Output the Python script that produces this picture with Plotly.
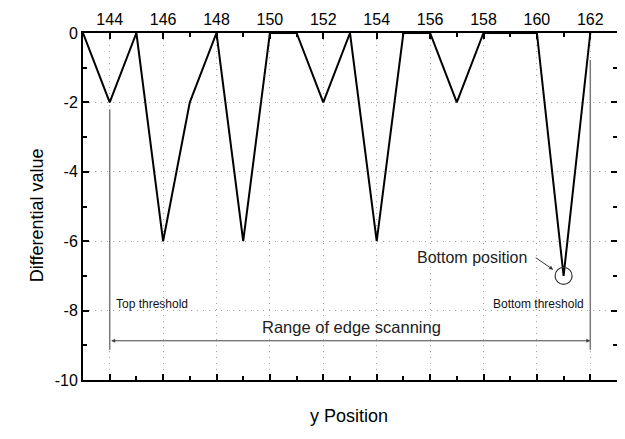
import plotly.graph_objects as go

y_position = list(range(143, 163))
diff_value = [0, -2, 0, -6, -2, 0, -6, 0, 0, -2, 0, -6, 0, 0, -2, 0, 0, 0, -7, 0]

x_ticks = [144, 146, 148, 150, 152, 154, 156, 158, 160, 162]
y_ticks = [0, -2, -4, -6, -8, -10]
y_tick_text = ["0", "-2", "-4", "-6", "-8", "-10"]

top_threshold_x = 144
bottom_threshold_x = 162
bottom_x, bottom_y = 161, -7
range_y = -8.87

FONT = "Liberation Sans, Arial, sans-serif"


def axis_style():
    return dict(showline=True, linecolor="black", linewidth=2, mirror="allticks",
                ticks="inside", ticklen=6, tickwidth=2, tickcolor="black",
                showgrid=True, gridcolor="#a0a0a0", griddash="1px,5px", gridwidth=1,
                zeroline=False, automargin=False, layer="above traces",
                tickfont=dict(size=16, family=FONT, color="black"),
                minor=dict(ticks="inside", ticklen=4, tickwidth=2, tickcolor="black",
                           showgrid=False, dtick=1))


fig = go.Figure()
fig.add_trace(go.Scatter(x=y_position, y=diff_value, mode="lines",
                         line=dict(color="black", width=2), showlegend=False))

fig.update_xaxes(range=[143, 163], side="top", tickvals=x_ticks, **axis_style())
fig.update_yaxes(range=[-10, 0], tickvals=y_ticks, ticktext=y_tick_text, **axis_style())

# threshold lines
fig.add_shape(type="line", x0=top_threshold_x, x1=top_threshold_x, y0=-2.2, y1=-9.13,
              line=dict(color="#7a7a7a", width=1.5))
fig.add_shape(type="line", x0=bottom_threshold_x, x1=bottom_threshold_x, y0=-0.78, y1=-9.13,
              line=dict(color="#7a7a7a", width=1.5))

# double arrow for range
fig.add_annotation(x=bottom_threshold_x, y=range_y, ax=top_threshold_x, ay=range_y,
                   xref="x", yref="y", axref="x", ayref="y", text="", showarrow=True,
                   arrowhead=2, startarrowhead=2, arrowside="end+start", arrowsize=0.8,
                   arrowwidth=1, arrowcolor="#444")

fig.add_annotation(x=153.06, y=-8.47, text="Range of edge scanning", showarrow=False,
                   font=dict(size=16.5, family=FONT, color="#222"))
fig.add_annotation(x=144.15, y=-7.8, text="Top threshold", showarrow=False, xanchor="left",
                   font=dict(size=12, family=FONT, color="#111"))
fig.add_annotation(x=161.85, y=-7.8, text="Bottom threshold", showarrow=False, xanchor="right",
                   font=dict(size=12, family=FONT, color="#111"))
fig.add_annotation(x=157.57, y=-6.47, text="Bottom position", showarrow=False,
                   font=dict(size=16, family=FONT, color="#222"))

# circle around bottom
fig.add_shape(type="circle", xref="x", yref="y", xsizemode="pixel", ysizemode="pixel",
              xanchor=bottom_x, yanchor=bottom_y, x0=-8.5, x1=8.5, y0=-8.5, y1=8.5,
              line=dict(color="#333", width=1.2))
fig.add_annotation(x=bottom_x - 0.39, y=bottom_y + 0.18, ax=-19, ay=-13, text="",
                   showarrow=True, arrowhead=2, arrowsize=0.8, arrowwidth=1, arrowcolor="#333")

# axis titles
fig.add_annotation(x=-0.108, y=0.476, xref="paper", yref="paper", text="Differential value",
                   textangle=-90, showarrow=False,
                   font=dict(size=18, family=FONT, color="black"))
fig.add_annotation(x=0.499, y=-0.138, xref="paper", yref="paper", text="y Position",
                   showarrow=False, font=dict(size=18, family=FONT, color="black"))

# page body adds an 8px margin, so the figure is sized to fit inside the window
fig.update_layout(width=617, height=431, margin=dict(l=75, r=8, t=25, b=59),
                  plot_bgcolor="white", paper_bgcolor="white")

fig.write_html("out.html")
